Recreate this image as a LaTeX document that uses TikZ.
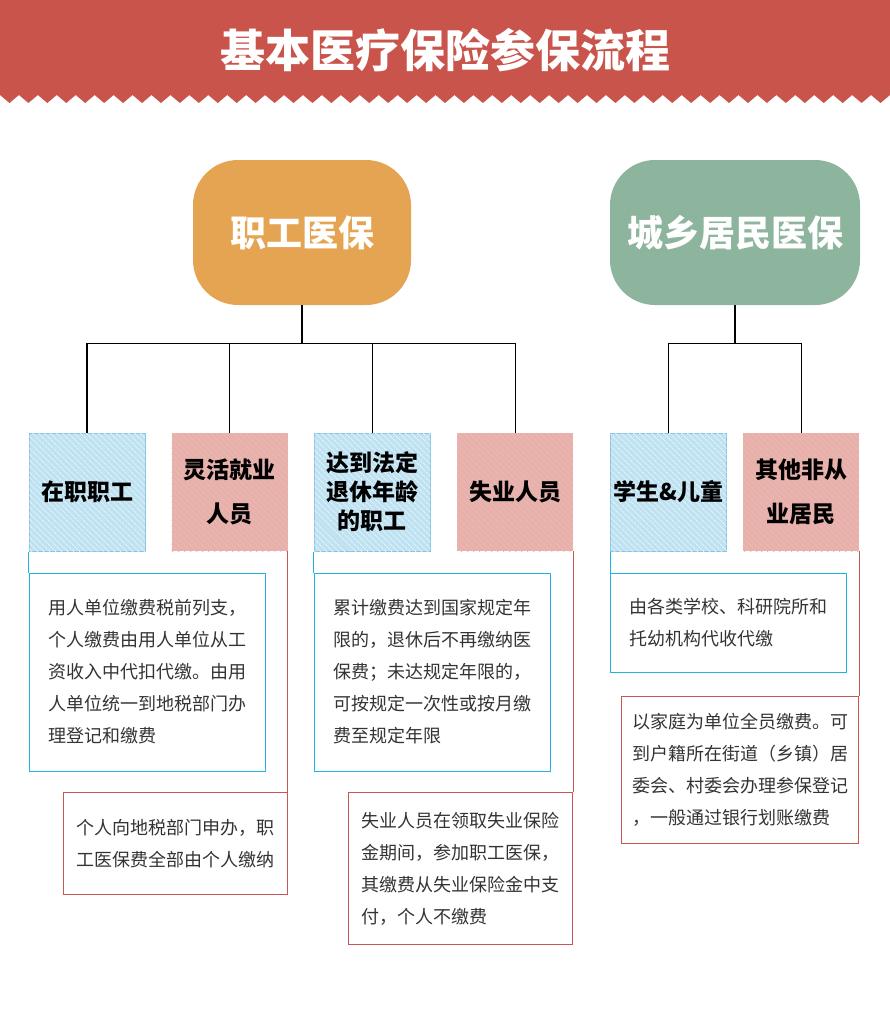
\documentclass[tikz,border=0pt]{standalone}
\usepackage{fontspec}
\setmainfont{Noto Sans CJK SC}
\usetikzlibrary{positioning, patterns.meta}

\definecolor{headred}{HTML}{C9544B}
\definecolor{orangebox}{HTML}{E4A452}
\definecolor{greenbox}{HTML}{8DB59E}
\definecolor{kindblue}{HTML}{BEE2F2}
\definecolor{kindblueline}{HTML}{8CC4E6}
\definecolor{kindred}{HTML}{E8B0AA}
\definecolor{noteblue}{HTML}{1CB5E4}
\definecolor{notered}{HTML}{CB5550}
\definecolor{notetext}{HTML}{333333}

\begin{document}
\begin{tikzpicture}[
  x=1pt, y=-1pt,
  topbox/.style   = {rounded corners=45pt, minimum width=218pt, minimum height=145pt,
                     inner sep=0pt, text=white, font=\fontsize{36}{36}\selectfont\bfseries},
  kindbox/.style  = {minimum width=116pt, minimum height=118pt, inner sep=0pt,
                     align=center, font=\fontsize{23}{44}\selectfont\bfseries},
  bluekind/.style = {kindbox, fill=kindblue, draw=kindblueline, line width=1pt,
                     postaction={pattern={Lines[angle=-45, distance=4pt, line width=1pt]},
                                 pattern color=white!55!kindblue}},
  redkind/.style  = {kindbox, fill=kindred,
                     postaction={pattern={Lines[angle=-45, distance=4pt, line width=1pt]},
                                 pattern color=kindred!88!white}},
  note/.style     = {draw, line width=1pt, inner sep=0pt, align=left, text=notetext,
                     font=\fontsize{18}{32}\selectfont},
  bluenote/.style = {note, draw=noteblue},
  rednote/.style  = {note, draw=notered},
  tree/.style     = {line width=1.2pt, black},
  bluelink/.style = {line width=1pt, noteblue},
  redlink/.style  = {line width=1pt, notered}
]
  \useasboundingbox (0,0) rectangle (890,1012);

  % Header band with zigzag edge
  \fill[headred] (0,0) -- (0,95)
    \foreach \k in {0,...,46} { -- ({\k*18.936+9.468},103) -- ({(\k+1)*18.936},95) }
    -- (890,0) -- cycle;
  \node[text=white, font=\fontsize{45}{45}\selectfont\bfseries] (title) at (445,50)
    {基本医疗保险参保流程};

  % Top level
  \node[topbox, fill=orangebox] (zgyb) at (302,232.5) {职工医保};
  \node[topbox, fill=greenbox, minimum width=250pt] (cxjm) at (735,232.5) {城乡居民医保};

  % Groups of people
  \node[bluekind] (zzzg) at (87,492) {在职职工};
  \node[redkind, right=26pt of zzzg] (lhjy) {灵活就业\\人员};
  \node[bluekind, right=26pt of lhjy, font=\fontsize{23}{29}\selectfont\bfseries] (txzg)
    {达到法定\\退休年龄\\的职工};
  \node[redkind, right=26pt of txzg] (syry) {失业人员};
  \node[bluekind] (xset) at (668.5,492) {学生\&儿童};
  \node[redkind, right=16pt of xset] (qtjm) {其他非从\\业居民};

  % Tree lines
  \coordinate[below=38pt of zgyb.south] (zgbus);
  \coordinate[below=38pt of cxjm.south] (cxbus);
  \draw[tree] (zgyb.south) -- (zgbus);
  \draw[tree] (cxjm.south) -- (cxbus);
  \foreach \k in {zzzg, lhjy, txzg, syry}
    \draw[tree] (zgbus) -| (\k.north);
  \foreach \k in {xset, qtjm}
    \draw[tree] (cxbus) -| (\k.north);

  % Notes
  \node[bluenote, minimum width=236pt, minimum height=198pt,
        below=21pt of zzzg.south west, anchor=north west] (zzzgnote)
    {用人单位缴费税前列支，\\个人缴费由用人单位从工\\资收入中代扣代缴。由用\\人单位统一到地税部门办\\理登记和缴费};
  \node[rednote, minimum width=224pt, minimum height=102pt,
        below=241pt of lhjy.south east, anchor=north east] (lhjynote)
    {个人向地税部门申办，职\\工医保费全部由个人缴纳};
  \node[bluenote, minimum width=236pt, minimum height=198pt,
        below=21pt of txzg.south west, anchor=north west] (txzgnote)
    {累计缴费达到国家规定年\\限的，退休后不再缴纳医\\保费；未达规定年限的，\\可按规定一次性或按月缴\\费至规定年限};
  \node[rednote, minimum width=224pt, minimum height=152pt,
        below=241pt of syry.south east, anchor=north east] (syrynote)
    {失业人员在领取失业保险\\金期间，参加职工医保，\\其缴费从失业保险金中支\\付，个人不缴费};
  \node[bluenote, minimum width=236pt, minimum height=99pt,
        below=21pt of xset.south west, anchor=north west] (xsetnote)
    {由各类学校、科研院所和\\托幼机构代收代缴};
  \node[rednote, minimum width=237pt, minimum height=147pt,
        below=145pt of qtjm.south east, anchor=north east] (qtjmnote)
    {以家庭为单位全员缴费。可\\到户籍所在街道（乡镇）居\\委会、村委会办理参保登记\\，一般通过银行划账缴费};

  % Links to notes
  \draw[bluelink] (zzzg.south west) -- (zzzgnote.north west);
  \draw[bluelink] (txzg.south west) -- (txzgnote.north west);
  \draw[bluelink] (xset.south west) -- (xsetnote.north west);
  \draw[redlink] (lhjy.south east) -- (lhjynote.north east);
  \draw[redlink] (syry.south east) -- (syrynote.north east);
  \draw[redlink] (qtjm.south east) -- (qtjmnote.north east);

\end{tikzpicture}
\end{document}
